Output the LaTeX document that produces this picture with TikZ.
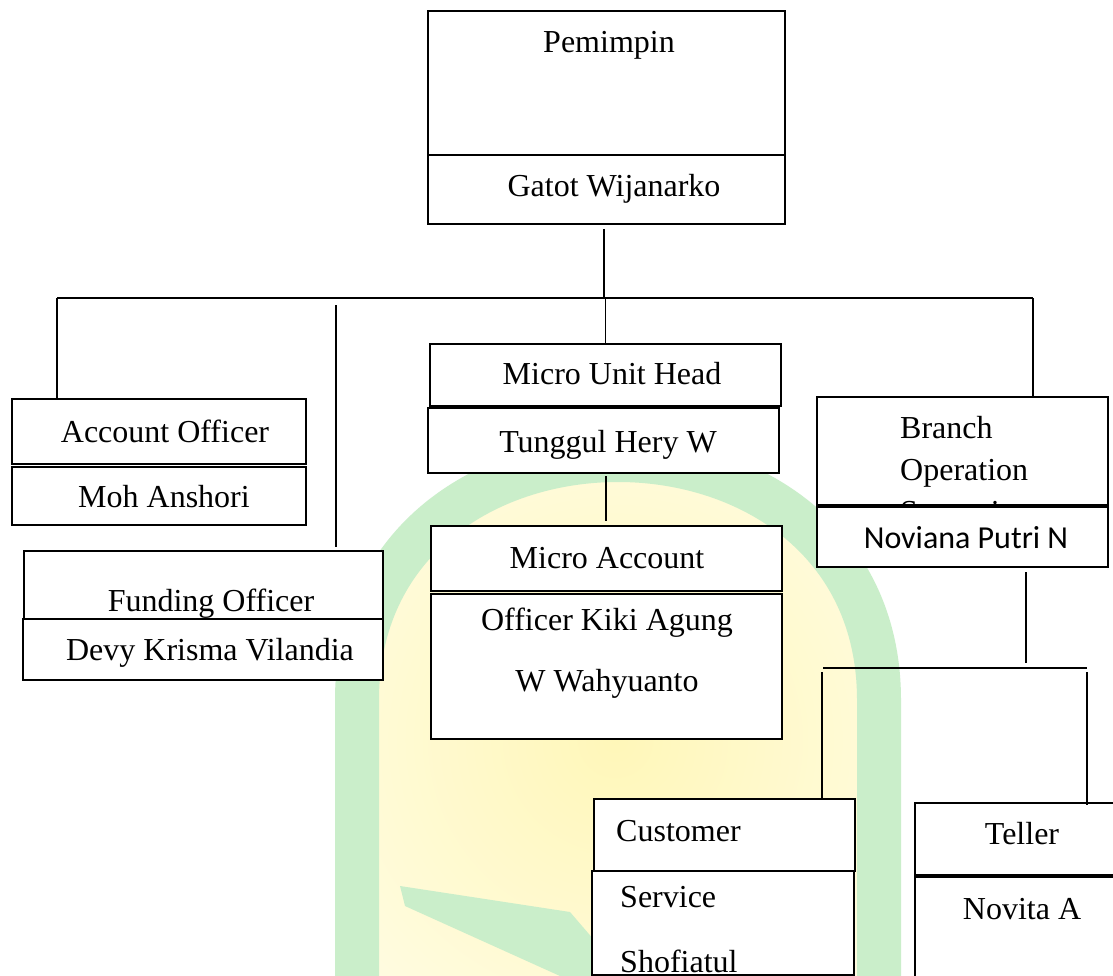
\documentclass[tikz,border=0pt]{standalone}
\usepackage{fontspec}
\setmainfont{Liberation Serif}
\newfontfamily\calibrifont{Carlito}
\usetikzlibrary{fit}
\definecolor{wmgreen}{RGB}{202,238,202}
\definecolor{wmyellow}{RGB}{255,247,185}
\begin{document}
\begin{tikzpicture}[x=1pt,y=-1pt,
  box/.style={draw=black, line width=2pt, fill=white, rectangle, inner sep=0pt},
  conn/.style={draw=black, line width=1.6pt},
  lbl/.style={font=\fontsize{32}{38}\selectfont, inner sep=0pt, anchor=base},
  lbll/.style={font=\fontsize{32}{38}\selectfont, inner sep=0pt, anchor=base west},
]
\useasboundingbox (0,0) rectangle (1113,976);
\clip (0,0) rectangle (1113,976);
\fill[white] (0,0) rectangle (1113,976);
% faint watermark
\begin{scope}
  \clip (340,1000) -- (340,700) .. controls (340,360) and (896,360) .. (896,700) -- (896,1000) -- cycle;
  \shade[inner color=wmyellow, outer color=white] (615,740) circle (600pt);
\end{scope}
\draw[wmgreen, line width=44pt] (357,1000) -- (357,700) .. controls (357,380) and (879,380) .. (879,700) -- (879,1000);
\fill[wmgreen] (400,886) -- (570,912) -- (625,976) -- (560,976) -- (405,906) -- cycle;

% boxes
\node[box, fit={(428,11) (785,155)}] (pemA) {};
\node[box, fit={(428,155) (785,224)}] (pemB) {};
\node[box, fit={(12,399) (306,464)}] (aoA) {};
\node[box, fit={(12,467) (306,525)}] (aoB) {};
\node[box, fit={(24,551) (383,619)}] (foA) {};
\node[box, fit={(23,619) (383,680)}] (foB) {};
\node[box, fit={(430,344) (781,406)}] (muhA) {};
\node[box, fit={(428,408) (779,473)}] (muhB) {};
\node[box, fit={(431,526) (782,591)}] (maoA) {};
\node[box, fit={(431,594) (782,739)}] (maoB) {};
\node[box, fit={(817,397) (1108,505)}] (bosA) {};
\node[box, fit={(817,507) (1108,567)}] (bosB) {};
\node[box, fit={(594,799) (855,871)}] (csA) {};
\node[box, fit={(592,871) (854,975)}] (csB) {};
\node[box, fit={(915,803) (1130,875)}] (tlA) {};
\node[box, fit={(915,877) (1130,1000)}] (tlB) {};

% texts
\node[lbl] (tPem) at (609,53) {Pemimpin};
\node[lbl] (tGat) at (614,197) {Gatot Wijanarko};
\node[lbl] (tAO) at (165,442) {Account Officer};
\node[lbl] (tMoh) at (164,507) {Moh Anshori};
\node[lbl] (tFO) at (211,611) {Funding Officer};
\node[lbl] (tDevy) at (210,660) {Devy Krisma Vilandia};
\node[lbl] (tMUH) at (612,384) {Micro Unit Head};
\node[lbl] (tTun) at (608,452) {Tunggul Hery W};
\node[lbl] (tMA) at (607,568) {Micro Account};
\node[lbl] (tKiki) at (607,630) {Officer Kiki Agung};
\node[lbl] (tWah) at (607,691) {W Wahyuanto};
\node[lbll] (tBr) at (900,438) {Branch};
\node[lbll] (tOp) at (900,480) {Operation};
\begin{scope}
  \clip (818,398) rectangle (1107,504);
  \node[lbll] (tSup) at (900,522) {Supervisor};
\end{scope}
\node[lbl, font=\calibrifont\fontsize{32}{38}\selectfont] (tNov) at (966,548) {Noviana Putri N};
\node[lbll] (tCus) at (616,841) {Customer};
\node[lbll] (tSer) at (620,907) {Service};
\node[lbll] (tSho) at (620,972) {Shofiatul};
\node[lbl] (tTel) at (1022,844) {Teller};
\node[lbl] (tNovA) at (1022,919) {Novita A};

% connectors
\coordinate (busL) at (57,298);
\coordinate (busR) at (1033,298);
\coordinate (pemDrop) at (604,229);
\coordinate (foTop) at (336,305);
\coordinate (muhDrop) at (606,476);
\coordinate (bosDrop) at (1026,572);
\coordinate (b2L) at (823,668);
\coordinate (b2R) at (1087,668);
\coordinate (csDrop) at (822,672);
\coordinate (tlDrop) at (1087,672);

\draw[conn] (pemDrop) -- (pemDrop |- busL);
\draw[conn] (busL) -- (busR);
\draw[conn] (busL) -- (busL |- aoA.north);
\draw[conn] (foTop) -- ([yshift=3pt]foTop |- foA.north);
\draw[conn] (muhA.north |- busL) -- (muhA.north);
\draw[conn] (busR) -- (busR |- bosA.north);
\draw[conn] (muhDrop) -- ([yshift=4pt]muhDrop |- maoA.north);
\draw[conn] (bosDrop) -- ([yshift=5pt]bosDrop |- b2L);
\draw[conn] (b2L) -- (b2R);
\draw[conn] (csDrop) -- (csDrop |- csA.north);
\draw[conn] (tlDrop) -- ([yshift=-3pt]tlDrop |- tlA.north);
\end{tikzpicture}
\end{document}
